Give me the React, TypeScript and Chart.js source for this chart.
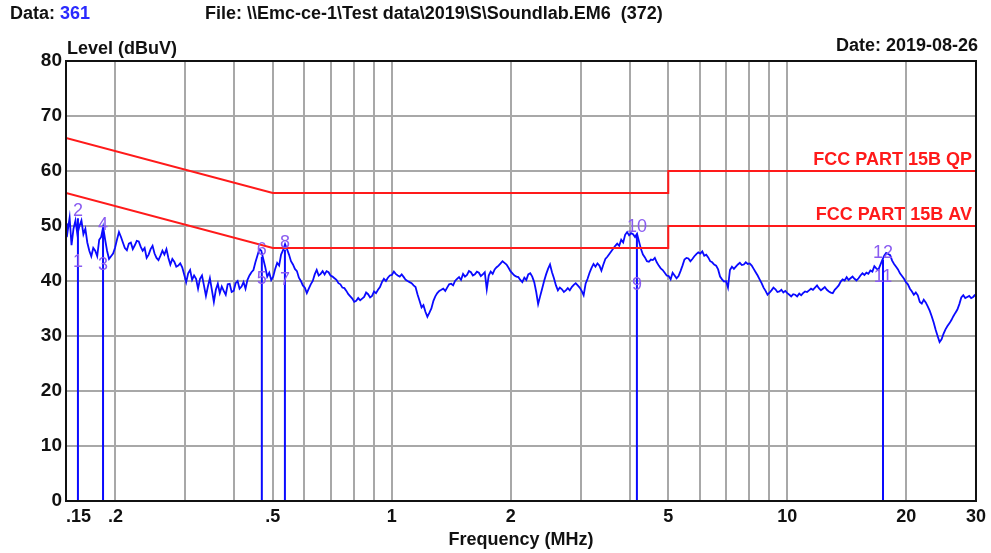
import React, { useEffect, useRef } from 'react';
import { Chart, registerables } from 'chart.js';

Chart.register(...registerables);

// Measured trace: frequency (MHz)
const freqMHz = [
  0.150, 0.1507, 0.1514, 0.1532, 0.1549, 0.1567, 0.1585, 0.1603, 0.1622, 0.1641,
  0.1660, 0.1679, 0.1698, 0.1718, 0.1738, 0.1758, 0.1778, 0.1799, 0.1820, 0.1841,
  0.1862, 0.1884, 0.1905, 0.1927, 0.1950, 0.1973, 0.1995, 0.2018, 0.2042, 0.2066,
  0.2089, 0.2113, 0.2138, 0.2163, 0.2188, 0.2213, 0.2239, 0.2265, 0.2291, 0.2318,
  0.2344, 0.2371, 0.2399, 0.2427, 0.2455, 0.2483, 0.2512, 0.2541, 0.2570, 0.2600,
  0.2630, 0.2660, 0.2692, 0.2723, 0.2754, 0.2786, 0.2818, 0.2851, 0.2884, 0.2917,
  0.2951, 0.2985, 0.3020, 0.3055, 0.3090, 0.3126, 0.3162, 0.3199, 0.3236, 0.3273,
  0.3311, 0.3349, 0.3388, 0.3427, 0.3467, 0.3507, 0.3548, 0.3589, 0.3631, 0.3673,
  0.3715, 0.3758, 0.3802, 0.3846, 0.3890, 0.3935, 0.3981, 0.4027, 0.4074, 0.4121,
  0.4169, 0.4217, 0.4266, 0.4315, 0.4365, 0.4416, 0.4467, 0.4519, 0.4571, 0.4624,
  0.4677, 0.4731, 0.4786, 0.4841, 0.4898, 0.4955, 0.5012, 0.5070, 0.5129, 0.5188,
  0.5248, 0.5309, 0.5370, 0.5432, 0.5495, 0.5559, 0.5623, 0.5688, 0.5754, 0.5821,
  0.5888, 0.5956, 0.6026, 0.6096, 0.6166, 0.6237, 0.6310, 0.6383, 0.6457, 0.6532,
  0.6607, 0.6684, 0.6761, 0.6839, 0.6918, 0.6998, 0.7079, 0.7161, 0.7244, 0.7328,
  0.7413, 0.7499, 0.7586, 0.7674, 0.7762, 0.7852, 0.7943, 0.8035, 0.8128, 0.8222,
  0.8318, 0.8414, 0.8511, 0.8610, 0.8710, 0.8811, 0.8913, 0.9016, 0.9120, 0.9226,
  0.9333, 0.9441, 0.9550, 0.9661, 0.9772, 0.9885,
  1.000, 1.012, 1.023, 1.035, 1.047, 1.059, 1.072, 1.084, 1.096, 1.109,
  1.122, 1.135, 1.148, 1.161, 1.175, 1.189, 1.202, 1.216, 1.230, 1.244,
  1.259, 1.274, 1.288, 1.303, 1.318, 1.334, 1.349, 1.365, 1.380, 1.396,
  1.413, 1.429, 1.445, 1.462, 1.479, 1.496, 1.514, 1.531, 1.549, 1.567,
  1.585, 1.603, 1.622, 1.641, 1.660, 1.679, 1.698, 1.718, 1.738, 1.758,
  1.778, 1.799, 1.820, 1.841, 1.862, 1.884, 1.905, 1.927, 1.950, 1.973,
  1.995, 2.018, 2.042, 2.066, 2.089, 2.113, 2.138, 2.163, 2.188, 2.213,
  2.239, 2.265, 2.291, 2.318, 2.344, 2.371, 2.399, 2.427, 2.455, 2.483,
  2.512, 2.541, 2.570, 2.600, 2.630, 2.660, 2.692, 2.723, 2.754, 2.786,
  2.818, 2.851, 2.884, 2.917, 2.951, 2.985, 3.020, 3.055, 3.090, 3.126,
  3.162, 3.199, 3.236, 3.273, 3.311, 3.349, 3.388, 3.427, 3.467, 3.507,
  3.548, 3.589, 3.631, 3.673, 3.715, 3.758, 3.802, 3.846, 3.890, 3.935,
  3.981, 4.027, 4.074, 4.121, 4.169, 4.217, 4.266, 4.315, 4.365, 4.416,
  4.467, 4.519, 4.571, 4.624, 4.677, 4.731, 4.786, 4.841, 4.898, 4.955,
  5.012, 5.070, 5.129, 5.188, 5.248, 5.309, 5.370, 5.432, 5.495, 5.559,
  5.623, 5.688, 5.754, 5.821, 5.888, 5.956, 6.026, 6.096, 6.166, 6.237,
  6.310, 6.383, 6.457, 6.532, 6.607, 6.684, 6.761, 6.839, 6.918, 6.998,
  7.079, 7.161, 7.244, 7.328, 7.413, 7.499, 7.586, 7.674, 7.762, 7.852,
  7.943, 8.035, 8.128, 8.222, 8.318, 8.414, 8.511, 8.610, 8.710, 8.811,
  8.913, 9.016, 9.120, 9.226, 9.333, 9.441, 9.550, 9.661, 9.772, 9.885,
  10.00, 10.12, 10.23, 10.35, 10.47, 10.59, 10.72, 10.84, 10.96, 11.09,
  11.22, 11.35, 11.48, 11.61, 11.75, 11.89, 12.02, 12.16, 12.30, 12.44,
  12.59, 12.74, 12.88, 13.03, 13.18, 13.34, 13.49, 13.65, 13.80, 13.96,
  14.13, 14.29, 14.45, 14.62, 14.79, 14.96, 15.14, 15.31, 15.49, 15.67,
  15.85, 16.03, 16.22, 16.41, 16.60, 16.79, 16.98, 17.18, 17.38, 17.58,
  17.78, 17.99, 18.20, 18.41, 18.62, 18.84, 19.05, 19.27, 19.50, 19.73,
  19.95, 20.18, 20.42, 20.66, 20.89, 21.13, 21.38, 21.63, 21.88, 22.13,
  22.39, 22.65, 22.91, 23.18, 23.44, 23.71, 23.99, 24.27, 24.55, 24.83,
  25.12, 25.41, 25.70, 26.00, 26.30, 26.60, 26.92, 27.23, 27.54, 27.86,
  28.18, 28.51, 28.84, 29.17, 29.51, 29.75, 30.00,
];

// Measured trace: level (dBuV)
const levelDbuV = [
  50.5, 48.0, 49.0, 51.5, 46.5, 49.5, 51.0, 48.5, 50.0, 51.0,
  48.5, 49.5, 47.0, 45.5, 44.5, 46.0, 45.5, 44.5, 47.5, 48.0,
  49.8, 47.5, 45.5, 44.0, 44.5, 45.0, 46.0, 47.5, 48.9, 48.0,
  47.0, 46.0, 45.6, 46.8, 47.0, 45.8, 46.5, 47.3, 47.2, 46.2,
  45.5, 46.0, 44.2, 44.8, 45.8, 46.4, 45.0, 44.2, 43.8, 44.6,
  45.5, 44.8, 45.8, 44.2, 43.0, 44.0, 43.5, 42.6, 42.8, 43.2,
  42.5, 41.2, 39.8, 41.4, 42.0, 40.2, 41.0, 40.4, 38.6, 40.4,
  41.0, 39.2, 37.3, 39.0, 40.5, 38.4, 36.2, 38.4, 39.5, 37.8,
  39.0, 38.2, 37.5, 39.4, 39.5, 38.0, 38.2, 39.6, 40.0, 38.6,
  39.0, 39.8, 38.6, 40.2, 41.0, 41.6, 42.0, 43.4, 44.6, 45.8,
  45.5, 44.0, 42.5, 40.8, 41.5, 40.2, 40.8, 42.2, 43.3, 42.8,
  44.8, 45.6, 46.7, 45.8, 44.8, 43.6, 43.0, 42.2, 41.8, 40.6,
  40.0, 39.2, 38.8, 37.8, 38.6, 39.4, 40.0, 41.2, 42.0, 41.0,
  41.3, 41.8, 41.2, 41.8, 41.6, 41.0, 40.8, 40.5, 40.2, 39.6,
  39.4, 38.8, 38.7, 38.2, 37.6, 37.2, 36.8, 36.2, 36.4, 36.9,
  36.5, 36.8, 37.1, 37.9, 37.6, 37.0, 37.3, 38.1, 37.8, 38.4,
  38.9, 39.8, 40.4, 40.0, 40.6, 41.0,
  41.1, 41.7, 41.3, 41.0, 40.8, 41.2, 40.7, 40.2, 40.0, 39.8,
  39.6, 39.2, 38.9, 37.6, 36.4, 35.2, 35.6, 34.4, 33.5, 34.2,
  35.0, 36.4, 37.2, 37.8, 38.2, 38.4, 38.6, 38.2, 38.8, 39.4,
  39.5, 39.2, 40.0, 40.4, 40.7, 40.2, 41.3, 40.8, 41.1, 41.8,
  41.6, 41.0, 41.2, 41.7, 41.5, 40.9, 41.2, 41.6, 38.5, 41.0,
  41.7, 41.3, 42.1, 42.5, 42.8, 43.2, 43.6, 43.3, 43.0, 42.4,
  41.8, 41.4, 41.0, 40.8, 40.7, 40.2, 39.8, 40.6, 40.2, 41.2,
  41.4, 40.8, 39.8, 38.0, 35.8, 37.2, 38.6, 40.0, 41.2, 42.2,
  43.0, 41.6, 40.5, 39.2, 38.3, 38.8, 38.5, 38.0, 38.3, 38.7,
  38.3, 38.9, 39.3, 39.6, 39.2, 38.8, 38.2, 37.4, 39.5, 40.4,
  41.5, 42.4, 43.1, 42.6, 43.2, 42.8, 41.9, 43.0, 44.0, 44.4,
  44.9, 45.4, 45.9, 46.4, 46.8, 46.4, 47.5, 47.0, 48.4, 48.9,
  48.3, 48.7, 48.5, 48.0, 48.6, 47.2, 45.8, 44.8, 44.3, 43.6,
  43.5, 43.9, 43.8, 44.2, 43.4, 42.8, 42.3, 42.0, 41.5, 41.0,
  40.9, 40.3, 41.5, 41.0, 40.5, 40.9, 41.8, 42.8, 43.9, 44.2,
  44.1, 43.6, 44.0, 44.5, 44.9, 45.2, 45.0, 45.4, 44.6, 44.8,
  44.3, 43.6, 43.4, 43.0, 42.8, 42.1, 40.8, 40.3, 39.9, 40.0,
  38.8, 42.0, 42.6, 42.2, 42.6, 43.0, 43.3, 42.9, 43.0, 43.4,
  43.1, 43.2, 42.8, 42.2, 41.6, 41.0, 40.3, 39.6, 38.8, 38.2,
  37.5, 37.9, 38.3, 38.8, 38.5, 38.0, 38.1, 38.4, 37.9, 38.2,
  37.8, 37.5, 37.2, 37.6, 37.5, 37.2, 37.7, 37.4, 37.8, 38.1,
  38.0, 38.3, 38.6, 38.4, 38.8, 39.2, 38.7, 38.3, 38.6, 38.9,
  38.4, 38.1, 37.9, 37.8, 38.4, 38.8, 39.2, 39.9, 40.3, 40.1,
  40.7, 40.2, 40.5, 40.8, 40.4, 40.1, 40.5, 41.0, 41.4, 41.1,
  41.5, 41.3, 41.9, 41.7, 42.7, 42.3, 42.0, 42.9, 43.8, 44.6,
  45.1, 44.9, 44.7, 43.7, 43.1, 42.6, 42.1, 41.4, 40.9, 40.4,
  39.8, 39.4, 38.6, 38.1, 37.5, 37.9, 37.4, 36.2, 35.9, 36.6,
  36.1, 35.4, 34.6, 33.6, 32.5, 31.2, 30.0, 28.9, 29.4, 30.4,
  31.2, 31.8, 32.3, 32.9, 33.6, 34.2, 34.8, 35.8, 37.0, 37.4,
  36.9, 37.1, 37.3, 36.9, 37.1, 37.4, 37.2,
];

// FCC Part 15B conducted limits
const qpLimitFreq = [0.15, 0.5, 5, 5, 30];
const qpLimitLevel = [66, 56, 56, 60, 60];
const avLimitFreq = [0.15, 0.5, 5, 5, 30];
const avLimitLevel = [56, 46, 46, 50, 50];

// Markers
const markerFreq = [0.1608, 0.1861, 0.4691, 0.5366, 4.166, 17.46];
const markerQP = [51.4, 48.9, 44.4, 45.7, 48.6, 43.9];
const markerAV = [43.5, 42.9, 40.4, 40.2, 39.3, 40.8];
const markerQPLabel = ['2', '4', '6', '8', '10', '12'];
const markerAVLabel = ['1', '3', '5', '7', '9', '11'];

// Axis ticks
const xGridValues = [0.15, 0.2, 0.3, 0.4, 0.5, 0.6, 0.7, 0.8, 0.9, 1, 2, 3, 4, 5, 6, 7, 8, 9, 10, 20, 30];
const xLabelValues = [0.15, 0.2, 0.5, 1, 2, 5, 10, 20, 30];
const xLabelTexts = ['     .15', '.2', '.5', '1', '2', '5', '10', '20', '30'];
const yMin = 0;
const yMax = 80;
const yStep = 10;

const FONT = "'Liberation Sans', Arial, Helvetica, sans-serif";
const TRACE_BLUE = '#0a0aff';
const LIMIT_RED = '#ff1a1a';
const MARKER_PURPLE = '#8a5cf0';

const App = () => {
  const canvasRef = useRef<HTMLCanvasElement | null>(null);

  useEffect(() => {
    document.body.style.margin = '0';
    const canvas = canvasRef.current;
    if (!canvas) return;

    const trace = freqMHz.map((f, i) => ({ x: f, y: levelDbuV[i] }));
    const qp = qpLimitFreq.map((f, i) => ({ x: f, y: qpLimitLevel[i] }));
    const av = avLimitFreq.map((f, i) => ({ x: f, y: avLimitLevel[i] }));

    const markerSets = markerFreq.map((f, i) => ({
      label: 'marker ' + markerQPLabel[i],
      data: [{ x: f, y: 0 }, { x: f, y: markerQP[i] }],
      borderColor: TRACE_BLUE,
      borderWidth: 2,
      pointRadius: 0,
      tension: 0,
    }));

    const overlay = {
      id: 'overlay',
      beforeDraw(chart: any) {
        const ctx = chart.ctx;
        ctx.save();
        ctx.fillStyle = '#ffffff';
        ctx.fillRect(0, 0, chart.width, chart.height);
        ctx.restore();
      },
      afterDraw(chart: any) {
        const ctx = chart.ctx;
        const xs = chart.scales.x;
        const ys = chart.scales.y;
        const area = chart.chartArea;
        ctx.save();
        // plot box
        ctx.strokeStyle = '#111';
        ctx.lineWidth = 2;
        ctx.strokeRect(area.left, area.top, area.right - area.left, area.bottom - area.top);

        // header
        ctx.font = `bold 18px ${FONT}`;
        ctx.textBaseline = 'middle';
        ctx.textAlign = 'left';
        ctx.fillStyle = '#111';
        ctx.fillText('Data: ', 10, 14);
        const w = ctx.measureText('Data: ').width;
        ctx.fillStyle = '#2a2aff';
        ctx.fillText('361', 10 + w, 14);
        ctx.fillStyle = '#111';
        ctx.fillText('File: \\\\Emc-ce-1\\Test data\\2019\\S\\Soundlab.EM6  (372)', 205, 14);
        ctx.textAlign = 'right';
        ctx.fillText('Date: 2019-08-26', 978, 46);
        ctx.textAlign = 'left';
        ctx.fillText('Level (dBuV)', 67, 49);

        // limit labels
        ctx.fillStyle = LIMIT_RED;
        ctx.textAlign = 'right';
        ctx.fillText('FCC PART 15B QP', 972, ys.getPixelForValue(60) - 11);
        ctx.fillText('FCC PART 15B AV', 972, ys.getPixelForValue(50) - 11);

        // marker labels
        ctx.font = `18px ${FONT}`;
        ctx.fillStyle = MARKER_PURPLE;
        ctx.textAlign = 'center';
        markerFreq.forEach((f, i) => {
          const px = xs.getPixelForValue(f);
          ctx.fillText(markerQPLabel[i], px, ys.getPixelForValue(markerQP[i]) - 7);
          ctx.fillText(markerAVLabel[i], px, ys.getPixelForValue(markerAV[i]));
        });
        ctx.restore();
      },
    };

    const chart = new Chart(canvas, {
      type: 'line',
      data: {
        datasets: [
          { label: 'FCC PART 15B QP', data: qp, borderColor: LIMIT_RED, borderWidth: 2, pointRadius: 0, tension: 0 },
          { label: 'FCC PART 15B AV', data: av, borderColor: LIMIT_RED, borderWidth: 2, pointRadius: 0, tension: 0 },
          { label: 'Level', data: trace, borderColor: TRACE_BLUE, borderWidth: 1.8, pointRadius: 0, tension: 0 },
          ...markerSets,
        ],
      },
      options: {
        responsive: false,
        animation: false,
        devicePixelRatio: 1,
        parsing: false,
        normalized: true,
        layout: { padding: { top: 61, right: 14, bottom: 0, left: 0 } },
        plugins: { legend: { display: false }, tooltip: { enabled: false }, title: { display: false } },
        scales: {
          x: {
            type: 'logarithmic',
            min: 0.15,
            max: 30,
            afterBuildTicks(scale: any) {
              scale.ticks = xGridValues.map((v) => ({ value: v }));
            },
            afterFit(scale: any) {
              scale.height = 52;
            },
            grid: { color: '#a8a8a8', lineWidth: 2, drawTicks: false },
            border: { display: false },
            ticks: {
              autoSkip: false,
              maxRotation: 0,
              padding: 5,
              color: '#111',
              font: { family: FONT, size: 18, weight: 'bold' },
              callback(value: any) {
                const idx = xLabelValues.findIndex((v) => Math.abs(v - Number(value)) < 1e-9);
                return idx >= 0 ? xLabelTexts[idx] : '';
              },
            },
            title: {
              display: true,
              text: 'Frequency (MHz)',
              color: '#111',
              font: { family: FONT, size: 18, weight: 'bold' },
              padding: { top: 0, bottom: 2 },
            },
          },
          y: {
            type: 'linear',
            min: yMin,
            max: yMax,
            afterFit(scale: any) {
              scale.width = 66;
            },
            grid: { color: '#a8a8a8', lineWidth: 2, drawTicks: false },
            border: { display: false },
            ticks: {
              stepSize: yStep,
              padding: 4,
              color: '#111',
              font: { family: FONT, size: 19, weight: 'bold' },
            },
          },
        },
      },
      plugins: [overlay],
    });

    return () => {
      chart.destroy();
    };
  }, []);

  return (
    <div style={{ width: 991, height: 553 }}>
      <canvas ref={canvasRef} width={991} height={553} style={{ display: 'block', width: 991, height: 553 }} />
    </div>
  );
};

export default App;
